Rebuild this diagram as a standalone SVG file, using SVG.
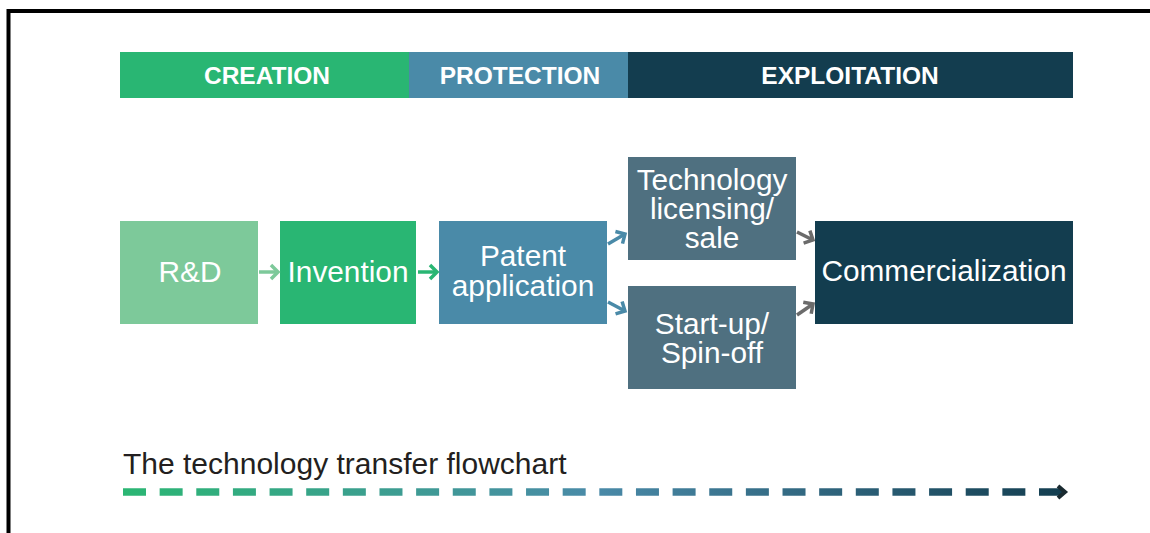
<svg xmlns="http://www.w3.org/2000/svg" width="1150" height="533" viewBox="0 0 1150 533">
<style>
  .hdr{font-family:"Liberation Sans",Arial,sans-serif;font-size:24.5px;font-weight:bold;fill:#ffffff;text-anchor:middle}
  .lbl{font-family:"Liberation Sans",Arial,sans-serif;font-size:29.8px;fill:#ffffff;text-anchor:middle}
  .cap{font-family:"Liberation Sans",Arial,sans-serif;font-size:30px;fill:#231f20}
  .conn{fill:none;stroke-width:3.5;stroke-linecap:butt}
</style>
<defs>
  <marker id="mLight" markerUnits="userSpaceOnUse" markerWidth="14" markerHeight="16" refX="9" refY="7" orient="auto" overflow="visible">
    <path d="M2,0 L9,7 L2,14" fill="none" stroke="#7dc99a" stroke-width="3.5"/>
  </marker>
  <marker id="mGreen" markerUnits="userSpaceOnUse" markerWidth="14" markerHeight="16" refX="9" refY="7" orient="auto" overflow="visible">
    <path d="M2,0 L9,7 L2,14" fill="none" stroke="#29b673" stroke-width="3.5"/>
  </marker>
  <marker id="mBlue" markerUnits="userSpaceOnUse" markerWidth="14" markerHeight="16" refX="9" refY="7" orient="auto" overflow="visible">
    <path d="M2,0 L9,7 L2,14" fill="none" stroke="#4a8aa8" stroke-width="3.5"/>
  </marker>
  <marker id="mGray" markerUnits="userSpaceOnUse" markerWidth="14" markerHeight="16" refX="9" refY="7" orient="auto" overflow="visible">
    <path d="M2,0 L9,7 L2,14" fill="none" stroke="#6b6b6b" stroke-width="3.5"/>
  </marker>
  <linearGradient id="flowGrad" gradientUnits="userSpaceOnUse" x1="123" y1="0" x2="1068" y2="0">
    <stop offset="0" stop-color="#2bb673"/>
    <stop offset="0.5" stop-color="#4a8aa8"/>
    <stop offset="1" stop-color="#133d4f"/>
  </linearGradient>
</defs>

<rect width="1150" height="533" fill="#ffffff"/>
<path d="M8.5,533 V11 H1150" fill="none" stroke="#000000" stroke-width="4"/>

<g id="header">
  <rect x="120" y="52" width="289" height="46" fill="#29b673"/>
  <rect x="409" y="52" width="219" height="46" fill="#4a8aa8"/>
  <rect x="628" y="52" width="445" height="46" fill="#133d4f"/>
  <text class="hdr" x="267" y="83.5">CREATION</text>
  <text class="hdr" x="520" y="83.5">PROTECTION</text>
  <text class="hdr" x="850" y="83.5">EXPLOITATION</text>
</g>

<g id="node-rd">
  <rect x="120" y="221" width="138" height="103" fill="#7dc99a"/>
  <text class="lbl" x="190" y="282">R&amp;D</text>
</g>
<g id="node-invention">
  <rect x="280" y="221" width="136" height="103" fill="#29b673"/>
  <text class="lbl" x="348" y="282">Invention</text>
</g>
<g id="node-patent">
  <rect x="439" y="221" width="168" height="103" fill="#4a8aa8"/>
  <text class="lbl" x="523" y="266">Patent</text>
  <text class="lbl" x="523" y="296">application</text>
</g>
<g id="node-licensing">
  <rect x="628" y="157" width="168" height="103" fill="#4f7080"/>
  <text class="lbl" x="712" y="190">Technology</text>
  <text class="lbl" x="712" y="219">licensing/</text>
  <text class="lbl" x="712" y="248">sale</text>
</g>
<g id="node-startup">
  <rect x="628" y="286" width="168" height="103" fill="#4f7080"/>
  <text class="lbl" x="712" y="334">Start-up/</text>
  <text class="lbl" x="712" y="363">Spin-off</text>
</g>
<g id="node-commercialization">
  <rect x="815" y="221" width="258" height="103" fill="#133d4f"/>
  <text class="lbl" x="944" y="281">Commercialization</text>
</g>

<g id="connectors">
  <line class="conn" x1="259" y1="272" x2="278" y2="272" stroke="#7dc99a" marker-end="url(#mLight)"/>
  <line class="conn" x1="418" y1="272" x2="437" y2="272" stroke="#29b673" marker-end="url(#mGreen)"/>
  <line class="conn" x1="608" y1="244" x2="625" y2="234" stroke="#4a8aa8" marker-end="url(#mBlue)"/>
  <line class="conn" x1="608" y1="302" x2="625" y2="311" stroke="#4a8aa8" marker-end="url(#mBlue)"/>
  <line class="conn" x1="797" y1="232" x2="813" y2="240" stroke="#6b6b6b" marker-end="url(#mGray)"/>
  <line class="conn" x1="797" y1="315" x2="813" y2="304" stroke="#6b6b6b" marker-end="url(#mGray)"/>
</g>

<g id="caption">
  <text class="cap" x="123" y="474">The technology transfer flowchart</text>
  <line x1="123" y1="492" x2="1062" y2="492" stroke="url(#flowGrad)" stroke-width="7.5" stroke-dasharray="23 13.64"/>
  <path d="M1058,486 L1065,492 L1058,498" fill="none" stroke="#1a2a30" stroke-width="4"/>
</g>
</svg>
